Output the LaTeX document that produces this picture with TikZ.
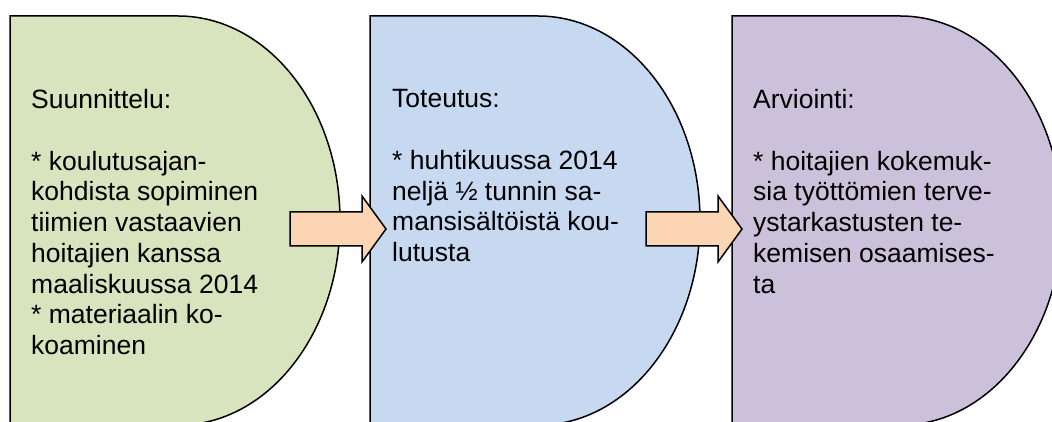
\documentclass[tikz,border=0pt]{standalone}
\usepackage{fontspec}
\setmainfont{Liberation Sans}
\definecolor{sgreen}{HTML}{D7E4BD}
\definecolor{sblue}{HTML}{C6D9F1}
\definecolor{spurple}{HTML}{CCC1DA}
\definecolor{sorange}{HTML}{FCD5B5}
\begin{document}
\begin{tikzpicture}[x=1pt,y=1pt,
  stage/.style={draw=black, line width=1.5pt, line join=miter},
  blockarrow/.style={draw=black, fill=sorange, line width=1.5pt, line join=miter},
  stagetext/.style={anchor=north west, align=left, inner sep=0pt, font=\fontsize{26.5}{30.7}\selectfont}]
\useasboundingbox (0,0) rectangle (1052,422);
\clip (0,0) rectangle (1052,422);
% stage shapes (right side half ellipse)
\foreach \sx/\col in {10/sgreen, 370/sblue, 732/spurple}{
  \draw[stage, fill=\col] (\sx,-10) -- (\sx,406) -- (\sx+168,406)
    arc[start angle=90, end angle=-90, x radius=162, y radius=204.6] -- cycle;
}
% texts
\node[stagetext] (t1) at (31,332.5) {Suunnittelu:\\[30.7pt]* koulutusajan-\\kohdista sopiminen\\tiimien vastaavien\\hoitajien kanssa\\maaliskuussa 2014\\* materiaalin ko-\\koaminen};
\node[stagetext] (t2) at (392,332.5) {Toteutus:\\[30.7pt]* huhtikuussa 2014\\neljä ½ tunnin sa-\\mansisältöistä kou-\\lutusta};
\node[stagetext] (t3) at (753,332.5) {Arviointi:\\[30.7pt]* hoitajien kokemuk-\\sia työttömien terve-\\ystarkastusten te-\\kemisen osaamises-\\ta};
% block arrows
\foreach \ax in {0,356}{
  \draw[blockarrow] (290+\ax,210) -- (362+\ax,210) -- (362+\ax,226) -- (386+\ax,193)
    -- (362+\ax,160) -- (362+\ax,176) -- (290+\ax,176) -- cycle;
}
\end{tikzpicture}
\end{document}
